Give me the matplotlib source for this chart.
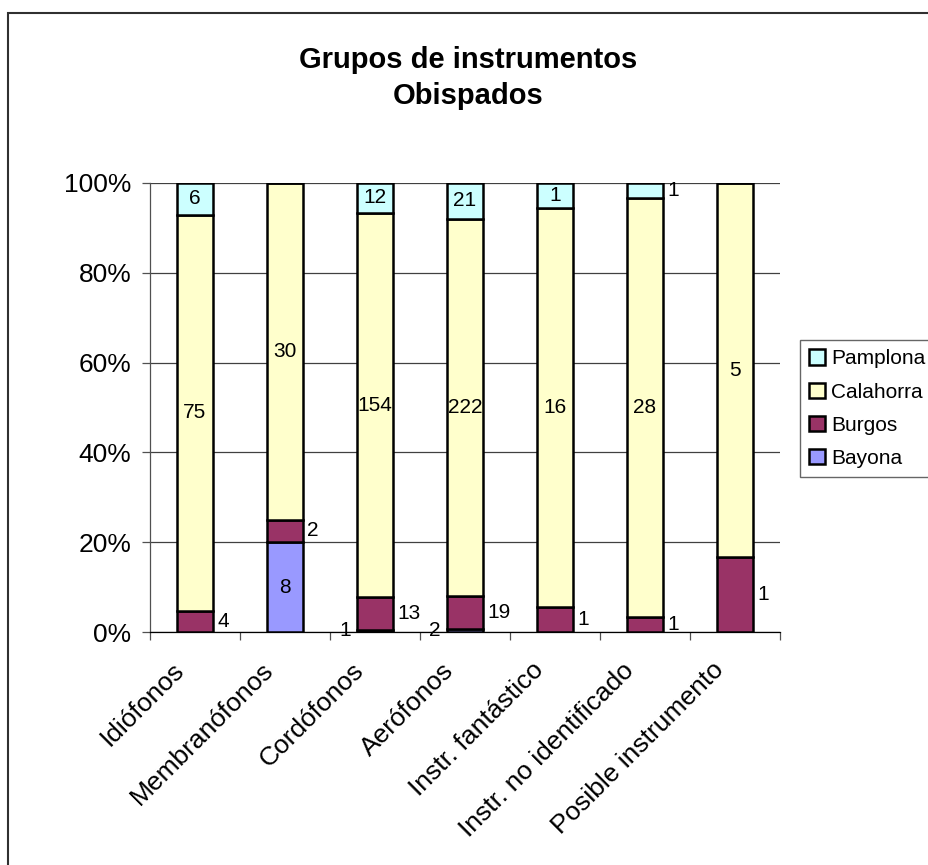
import numpy as np
import matplotlib
matplotlib.use('Agg')
from matplotlib import pyplot as plt
from matplotlib import patches
from matplotlib.transforms import ScaledTranslation

plt.rcParams['font.family'] = ['Liberation Sans', 'DejaVu Sans']

# Datos
grupos = ['Idiófonos', 'Membranófonos', 'Cordófonos', 'Aerófonos',
          'Instr. fantástico', 'Instr. no identificado', 'Posible instrumento']
bayona = np.array([0, 8, 1, 2, 0, 0, 0])
burgos = np.array([4, 2, 13, 19, 1, 1, 1])
calahorra = np.array([75, 30, 154, 222, 16, 28, 5])
pamplona = np.array([6, 0, 12, 21, 1, 1, 0])

series = [('Bayona', bayona, '#9999FF'),
          ('Burgos', burgos, '#993366'),
          ('Calahorra', calahorra, '#FFFFCC'),
          ('Pamplona', pamplona, '#CCFFFF')]

# donde va la etiqueta: c = dentro, r = derecha, l = izquierda
pos_etiqueta = {
    'Bayona': ['l', 'c', 'l', 'l', 'l', 'l', 'l'],
    'Burgos': ['r'] * 7,
    'Calahorra': ['c'] * 7,
    'Pamplona': ['c', 'c', 'c', 'c', 'c', 'r', 'c'],
}

total = bayona + burgos + calahorra + pamplona
x = np.arange(len(grupos))
w = 0.4

fig = plt.figure(figsize=(9.29, 8.65), dpi=100)
ax = fig.add_axes([150 / 929, 1 - 632 / 865, 630 / 929, 449 / 865])

base = np.zeros(len(grupos))
barras = []
for nombre, vals, col in series:
    frac = vals / total
    b = ax.bar(x, frac, w, bottom=base, color=col, edgecolor='black',
               linewidth=1.8, label=nombre, zorder=3)
    barras.append(b)
    for i in range(len(grupos)):
        if vals[i] == 0:
            continue
        ym = base[i] + frac[i] / 2
        p = pos_etiqueta[nombre][i]
        if p == 'c':
            ax.text(x[i], ym, str(vals[i]), ha='center', va='center', fontsize=15, zorder=4)
        elif p == 'r':
            ax.text(x[i] + w / 2 + 0.05, ym, str(vals[i]), ha='left', va='center', fontsize=15, zorder=4)
        else:
            ax.text(x[i] - w / 2 - 0.07, ym, str(vals[i]), ha='right', va='center', fontsize=15, zorder=4)
    base = base + frac

ax.set_xlim(-0.5, len(grupos) - 0.5)
ax.set_ylim(0, 1)
ax.set_yticks(np.arange(0, 1.01, 0.2))
ax.set_yticklabels(['%d%%' % v for v in range(0, 101, 20)], fontsize=19)
ax.yaxis.grid(True, color='#404040', linewidth=0.9, zorder=0)
ax.tick_params(axis='y', direction='out', length=6, width=0.9, color='#505050', pad=7.5)

ax.set_xticks(x)
ax.set_xticks(np.arange(len(grupos) + 1) - 0.5, minor=True)
ax.tick_params(axis='x', which='major', length=0, pad=4)
ax.tick_params(axis='x', which='minor', direction='out', length=6, width=0.9, color='#505050')
ax.set_xticklabels(grupos, rotation=45, ha='right', va='center',
                   rotation_mode='anchor', fontsize=19)
off = ScaledTranslation(-0.15, -0.29, fig.dpi_scale_trans)
for lab in ax.get_xticklabels():
    lab.set_transform(lab.get_transform() + off)

for s in ['top', 'right']:
    ax.spines[s].set_visible(False)
ax.spines['left'].set_color('#505050')
ax.spines['bottom'].set_color('black')
ax.spines['left'].set_linewidth(0.9)
ax.spines['bottom'].set_linewidth(0.9)

fig.text(468 / 929, 1 - 78 / 865, 'Grupos de instrumentos\nObispados', ha='center',
         va='center', fontsize=21, fontweight='bold', linespacing=1.4)

h = barras[::-1]
leg = fig.legend(h, [s[0] for s in series][::-1], loc='upper left',
                 bbox_to_anchor=(800 / 929, 1 - 340 / 865), fontsize=15,
                 frameon=True, fancybox=False, edgecolor='#404040',
                 handlelength=0.75, handleheight=0.75, handletextpad=0.3,
                 labelspacing=0.68, borderpad=0.45, borderaxespad=0)
leg.get_frame().set_linewidth(1.0)
for p in leg.get_patches():
    p.set_linewidth(1.8)

# marco del area del grafico
fig.patches.append(patches.Rectangle((8 / 929, -0.1), 1.2, 1.1 - 13 / 865,
                                     transform=fig.transFigure, fill=False,
                                     edgecolor='#303030', linewidth=1.5))

plt.savefig('out.png', dpi=100)
